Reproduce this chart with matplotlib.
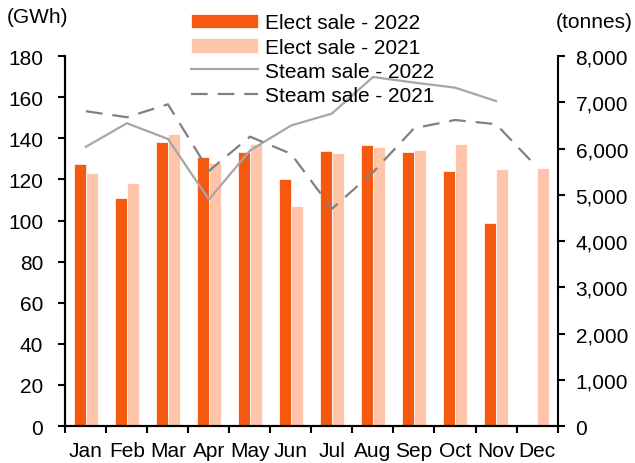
import numpy as np
import matplotlib
matplotlib.use('Agg')
import matplotlib.pyplot as plt
from matplotlib.ticker import FuncFormatter, MultipleLocator

plt.rcParams['font.family'] = ['Liberation Sans', 'DejaVu Sans']

# data
months = ['Jan', 'Feb', 'Mar', 'Apr', 'May', 'Jun',
          'Jul', 'Aug', 'Sep', 'Oct', 'Nov', 'Dec']
elect_2022 = [127.5, 111, 138, 131, 133.5, 120, 134, 137, 133.5, 124, 99, np.nan]
elect_2021 = [123, 118.5, 142, 128, 137.5, 107, 133, 136, 134.5, 137.5, 125, 125.5]
steam_2022 = [6040, 6550, 6210, 4900, 5960, 6500, 6760, 7550, 7430, 7320, 7030, np.nan]
steam_2021 = [6810, 6680, 6960, 5520, 6260, 5890, 4700, 5490, 6440, 6620, 6530, 5600]

c22 = '#F4590F'
c21 = '#FFC5AA'
fs = 15

fig = plt.figure(figsize=(6.35, 4.64), dpi=100)
ax = fig.add_axes([0.103, 0.0797, 0.775, 0.797])
ax2 = ax.twinx()

x = np.arange(len(months))
w = 0.3
b1 = ax.bar(x - 0.15, elect_2022, w, color=c22, edgecolor='white', linewidth=0.5,
            label='Elect sale - 2022')
b2 = ax.bar(x + 0.15, elect_2021, w, color=c21, edgecolor='white', linewidth=0.5,
            label='Elect sale - 2021')

l1, = ax2.plot(x, steam_2022, color='#A6A6A6', lw=1.6, label='Steam sale - 2022')
l2, = ax2.plot(x, steam_2021, color='#808080', lw=1.6, dashes=(7.5, 4.5),
               label='Steam sale - 2021')

ax.set_ylim(0, 180)
ax.set_xlim(-0.5, 11.5)
ax.yaxis.set_major_locator(MultipleLocator(20))
ax2.set_ylim(0, 8000)
ax2.yaxis.set_major_locator(MultipleLocator(1000))
ax2.yaxis.set_major_formatter(FuncFormatter(lambda v, p: f'{int(v):,}'))

# x ticks sit between the months
ax.set_xticks(np.arange(-0.5, 12, 1))
ax.set_xticklabels([])
ax.set_xticks(x, minor=True)
ax.set_xticklabels(months, minor=True)
ax.tick_params(axis='x', which='minor', length=0, pad=11, labelsize=fs)
ax.tick_params(axis='x', which='major', length=5, width=1.5, direction='out')

for a in (ax, ax2):
    a.spines['top'].set_visible(False)
    for s in a.spines.values():
        s.set_linewidth(1.5)
ax.spines['right'].set_visible(False)
ax.tick_params(axis='y', length=5, width=1.5, direction='out', pad=11, labelsize=fs)
ax2.tick_params(axis='y', length=5, width=1.5, direction='out', pad=8, labelsize=fs)

fig.text(0.01, 0.963, '(GWh)', fontsize=fs, va='center', ha='left')
fig.text(0.997, 0.952, '(tonnes)', fontsize=fs, va='center', ha='right')

fig.legend(handles=[b1, b2, l1, l2], loc='upper left', bbox_to_anchor=(0.295, 0.978),
           frameon=False, fontsize=fs, handlelength=3.2, handletextpad=0.35,
           labelspacing=0.25, borderaxespad=0, borderpad=0.2)

fig.savefig('out.png', dpi=100)
